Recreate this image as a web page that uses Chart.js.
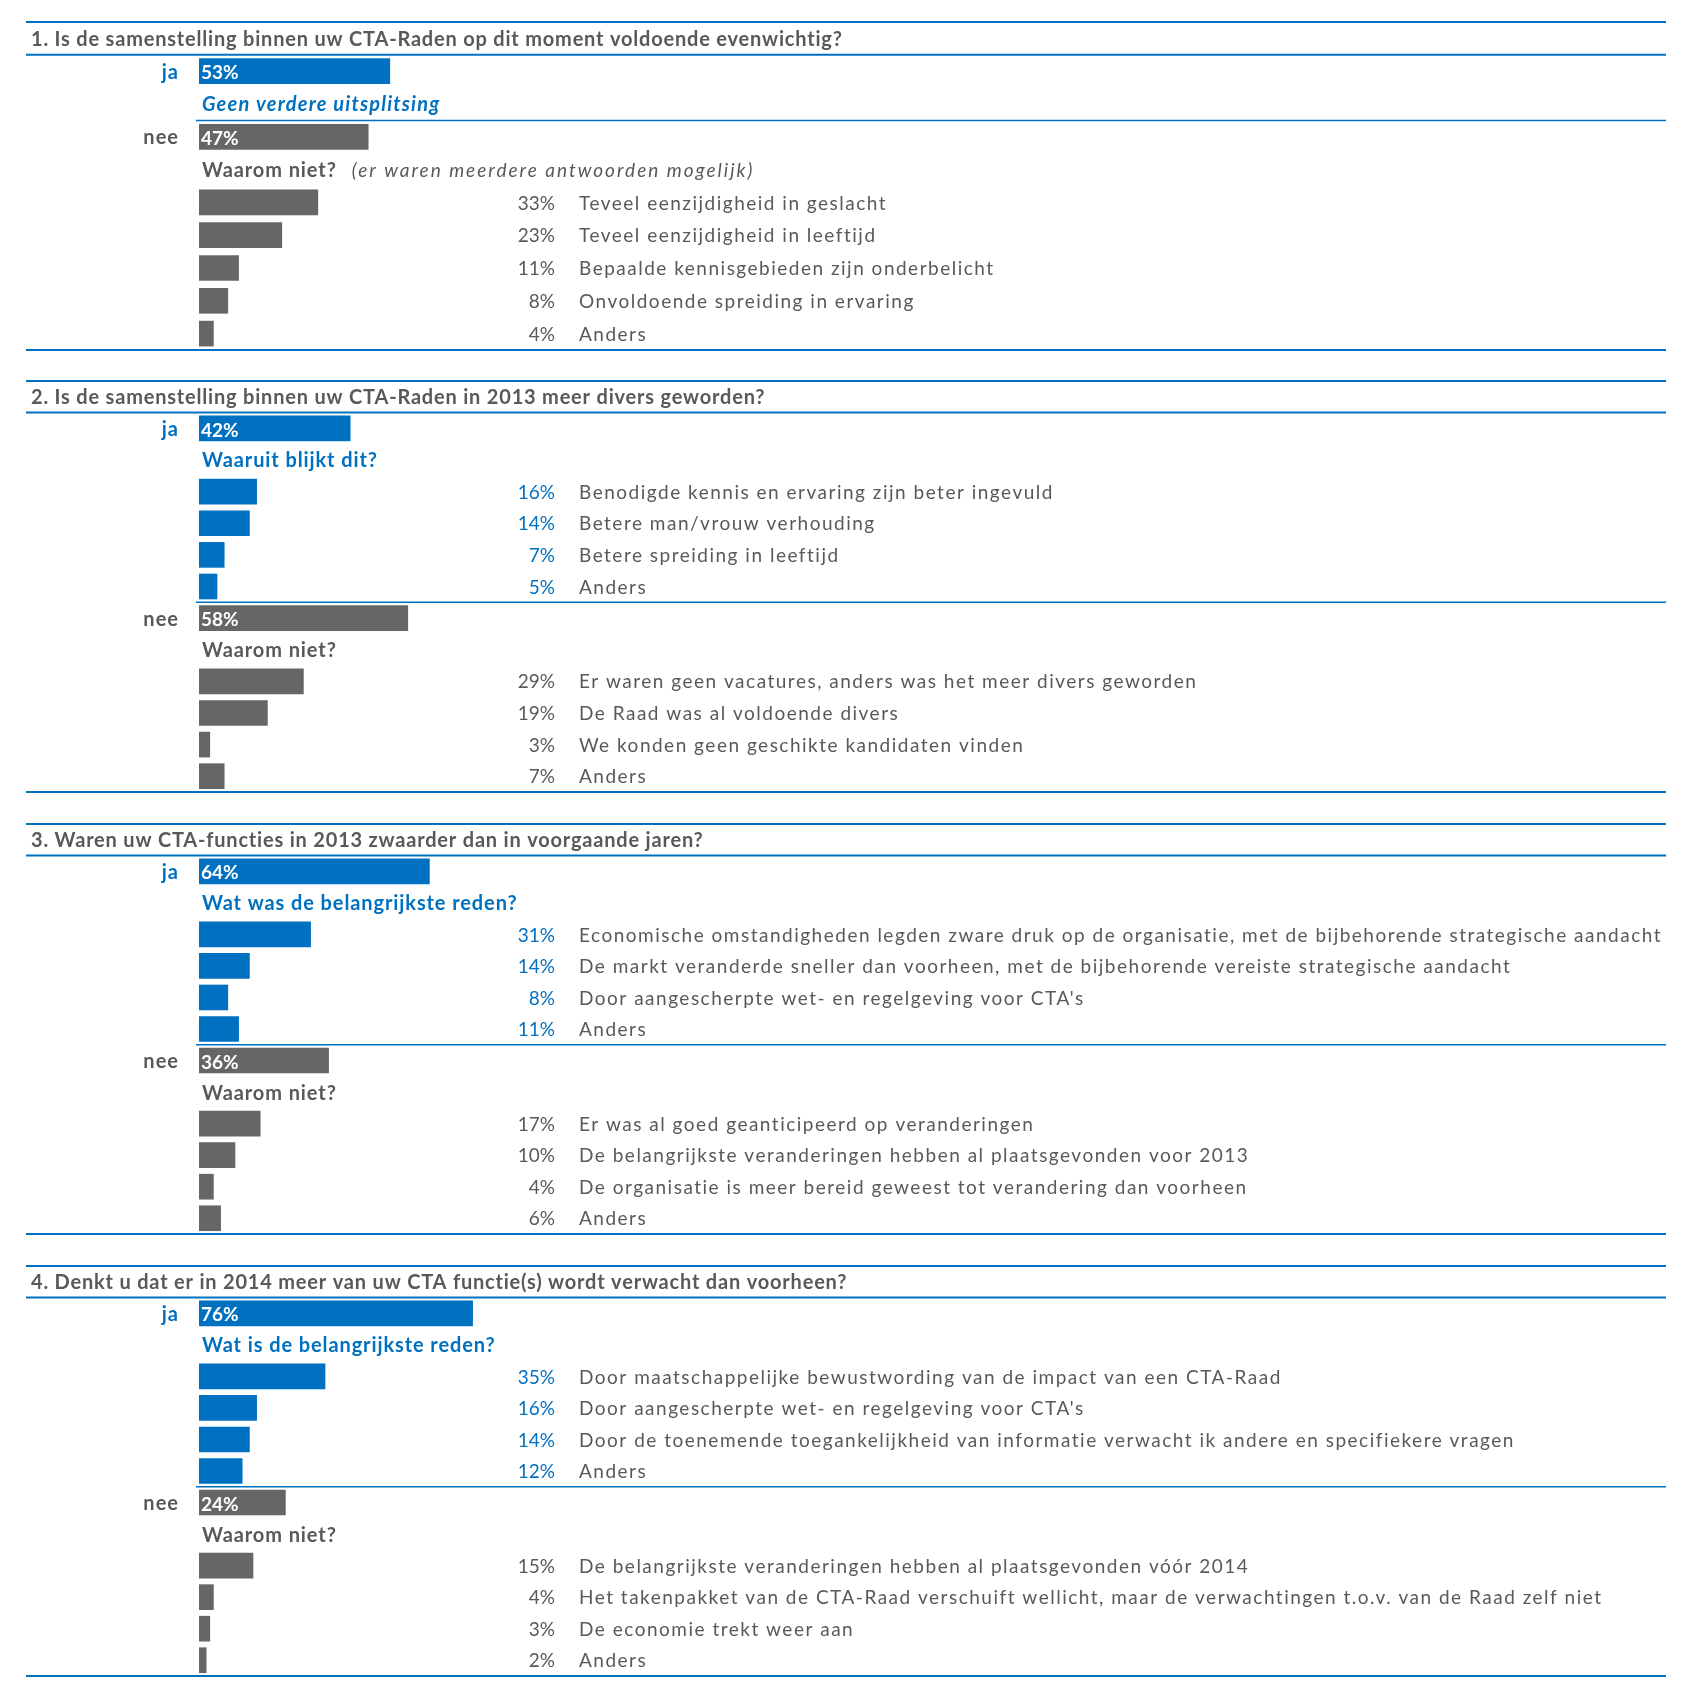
<!DOCTYPE html>
<html>
<head>
<meta charset="utf-8">
<script src="https://cdn.jsdelivr.net/npm/chart.js@4.4.1/dist/chart.umd.min.js"></script>
<style>
  html, body { margin: 0; padding: 0; background: #ffffff; }
  #wrap { position: relative; width: 1689px; height: 1701px; }
  #wrap canvas { position: absolute; left: 0; }
</style>
</head>
<body>
<div id="wrap"></div>
<script>
// --- data ---
const titles = [
    '1. Is de samenstelling binnen uw CTA-Raden op dit moment voldoende evenwichtig?',
    '2. Is de samenstelling binnen uw CTA-Raden in 2013 meer divers geworden?',
    '3. Waren uw CTA-functies in 2013 zwaarder dan in voorgaande jaren?',
    '4. Denkt u dat er in 2014 meer van uw CTA functie(s) wordt verwacht dan voorheen?'
];
const jaValues = [53, 42, 64, 76];
const neeValues = [47, 58, 36, 24];

const jaHeadings = ['Geen verdere uitsplitsing', 'Waaruit blijkt dit?', 'Wat was de belangrijkste reden?', 'Wat is de belangrijkste reden?'];
const neeHeadings = ['Waarom niet?', 'Waarom niet?', 'Waarom niet?', 'Waarom niet?'];
const neeNotes = ['(er waren meerdere antwoorden mogelijk)', '', '', ''];

const jaReasons = [
    [],
    ['Benodigde kennis en ervaring zijn beter ingevuld', 'Betere man/vrouw verhouding', 'Betere spreiding in leeftijd', 'Anders'],
    ['Economische omstandigheden legden zware druk op de organisatie, met de bijbehorende strategische aandacht',
     'De markt veranderde sneller dan voorheen, met de bijbehorende vereiste strategische aandacht',
     "Door aangescherpte wet- en regelgeving voor CTA's", 'Anders'],
    ['Door maatschappelijke bewustwording van de impact van een CTA-Raad', "Door aangescherpte wet- en regelgeving voor CTA's",
     'Door de toenemende toegankelijkheid van informatie verwacht ik andere en specifiekere vragen', 'Anders']
];
const jaReasonValues = [[], [16, 14, 7, 5], [31, 14, 8, 11], [35, 16, 14, 12]];

const neeReasons = [
    ['Teveel eenzijdigheid in geslacht', 'Teveel eenzijdigheid in leeftijd', 'Bepaalde kennisgebieden zijn onderbelicht',
     'Onvoldoende spreiding in ervaring', 'Anders'],
    ['Er waren geen vacatures, anders was het meer divers geworden', 'De Raad was al voldoende divers',
     'We konden geen geschikte kandidaten vinden', 'Anders'],
    ['Er was al goed geanticipeerd op veranderingen', 'De belangrijkste veranderingen hebben al plaatsgevonden voor 2013',
     'De organisatie is meer bereid geweest tot verandering dan voorheen', 'Anders'],
    ['De belangrijkste veranderingen hebben al plaatsgevonden vóór 2014',
     'Het takenpakket van de CTA-Raad verschuift wellicht, maar de verwachtingen t.o.v. van de Raad zelf niet',
     'De economie trekt weer aan', 'Anders']
];
const neeReasonValues = [[33, 23, 11, 8, 4], [29, 19, 3, 7], [17, 10, 4, 6], [15, 4, 3, 2]];

// --- layout ---
const W = 1689;
const sectionTop = [22, 381, 824, 1266];
const sectionBottom = [350, 792, 1234, 1676];
const BLUE = '#0070c0';
const GREY = '#666666';
const TEXT = '#595959';
const FONT = 'Lato, "Open Sans", sans-serif';
const barLeft = 199;
const barScale = 360;   // pixels for 100%
const pad = 4;

const rowsFor = (q) => {
    const rows = [];
    rows.push({ kind: 'title', text: titles[q] });
    rows.push({ kind: 'ja', value: jaValues[q] });
    rows.push({ kind: 'jaHead', text: jaHeadings[q], italic: jaReasons[q].length === 0 });
    jaReasons[q].forEach((r, i) => rows.push({ kind: 'jaItem', text: r, value: jaReasonValues[q][i] }));
    rows.push({ kind: 'nee', value: neeValues[q] });
    rows.push({ kind: 'neeHead', text: neeHeadings[q], note: neeNotes[q] });
    neeReasons[q].forEach((r, i) => rows.push({ kind: 'neeItem', text: r, value: neeReasonValues[q][i] }));
    return rows;
};

const textPlugin = {
    id: 'surveyText',
    afterDatasetsDraw(chart) {
        const rows = chart.options.plugins.surveyText.rows;
        const ctx = chart.ctx;
        const area = chart.chartArea;
        const y = chart.scales.y;
        const slot = area.height / rows.length;
        ctx.save();
        ctx.textBaseline = 'middle';

        const line = (yy, x0, width) => {
            ctx.strokeStyle = BLUE;
            ctx.lineWidth = width;
            ctx.beginPath();
            ctx.moveTo(x0, yy);
            ctx.lineTo(1666, yy);
            ctx.stroke();
        };

        rows.forEach((row, i) => {
            const cy = y.getPixelForValue(i) + 1;
            ctx.letterSpacing = '0px';
            if (row.kind === 'title') {
                ctx.font = 'bold 20px ' + FONT;
                ctx.letterSpacing = '0.8px';
                ctx.fillStyle = TEXT;
                ctx.textAlign = 'left';
                ctx.fillText(row.text, 31, cy);
            } else if (row.kind === 'ja' || row.kind === 'nee') {
                ctx.font = 'bold 20px ' + FONT;
                ctx.letterSpacing = '1px';
                ctx.fillStyle = row.kind === 'ja' ? BLUE : TEXT;
                ctx.textAlign = 'right';
                ctx.fillText(row.kind, 179, cy);
                ctx.letterSpacing = '0px';
                ctx.fillStyle = '#ffffff';
                ctx.textAlign = 'left';
                ctx.font = 'bold 19px ' + FONT;
                ctx.fillText(row.value + '%', 201, cy + 1);
                if (row.kind === 'nee') {
                    line(y.getPixelForValue(i) - slot / 2, 196, 1.5);
                }
            } else if (row.kind === 'jaHead' || row.kind === 'neeHead') {
                ctx.font = (row.italic ? 'italic ' : '') + 'bold 20px ' + FONT;
                ctx.letterSpacing = row.italic ? '1.2px' : '0.9px';
                ctx.fillStyle = row.kind === 'jaHead' ? BLUE : TEXT;
                ctx.textAlign = 'left';
                ctx.fillText(row.text, 202, cy);
                if (row.note) {
                    const w = ctx.measureText(row.text).width;
                    ctx.font = 'italic 19px ' + FONT;
                    ctx.letterSpacing = '2px';
                    ctx.fillText(row.note, 202 + w + 15, cy);
                }
            } else {
                ctx.font = '19px ' + FONT;
                ctx.fillStyle = row.kind === 'jaItem' ? BLUE : TEXT;
                ctx.textAlign = 'right';
                ctx.fillText(row.value + '%', 555, cy);
                ctx.fillStyle = TEXT;
                ctx.textAlign = 'left';
                ctx.letterSpacing = '1.5px';
                ctx.fillText(row.text, 579, cy);
            }
        });

        line(area.top, 26, 2);
        line(area.top + slot, 26, 2);
        line(area.bottom, 26, 2);
        ctx.restore();
    }
};

const wrap = document.getElementById('wrap');

titles.forEach((t, q) => {
    const rows = rowsFor(q);
    const h = sectionBottom[q] - sectionTop[q] + pad * 2;
    const canvas = document.createElement('canvas');
    canvas.width = W;
    canvas.height = h;
    canvas.style.width = W + 'px';
    canvas.style.height = h + 'px';
    canvas.style.top = (sectionTop[q] - pad) + 'px';
    wrap.appendChild(canvas);

    const values = rows.map(r => (r.value === undefined ? null : r.value));
    const colors = rows.map(r => (r.kind === 'ja' || r.kind === 'jaItem') ? BLUE : GREY);

    new Chart(canvas, {
        type: 'bar',
        data: {
            labels: rows.map((r, i) => r.text || r.kind + i),
            datasets: [{
                data: values,
                backgroundColor: colors,
                borderWidth: 0,
                barThickness: 25
            }]
        },
        options: {
            indexAxis: 'y',
            responsive: false,
            animation: false,
            devicePixelRatio: 1,
            layout: { padding: { left: barLeft, right: W - barLeft - barScale, top: pad, bottom: pad } },
            scales: {
                x: { min: 0, max: 100, display: false },
                y: { display: false }
            },
            plugins: {
                legend: { display: false },
                tooltip: { enabled: false },
                surveyText: { rows: rows }
            }
        },
        plugins: [textPlugin]
    });
});
</script>
</body>
</html>
